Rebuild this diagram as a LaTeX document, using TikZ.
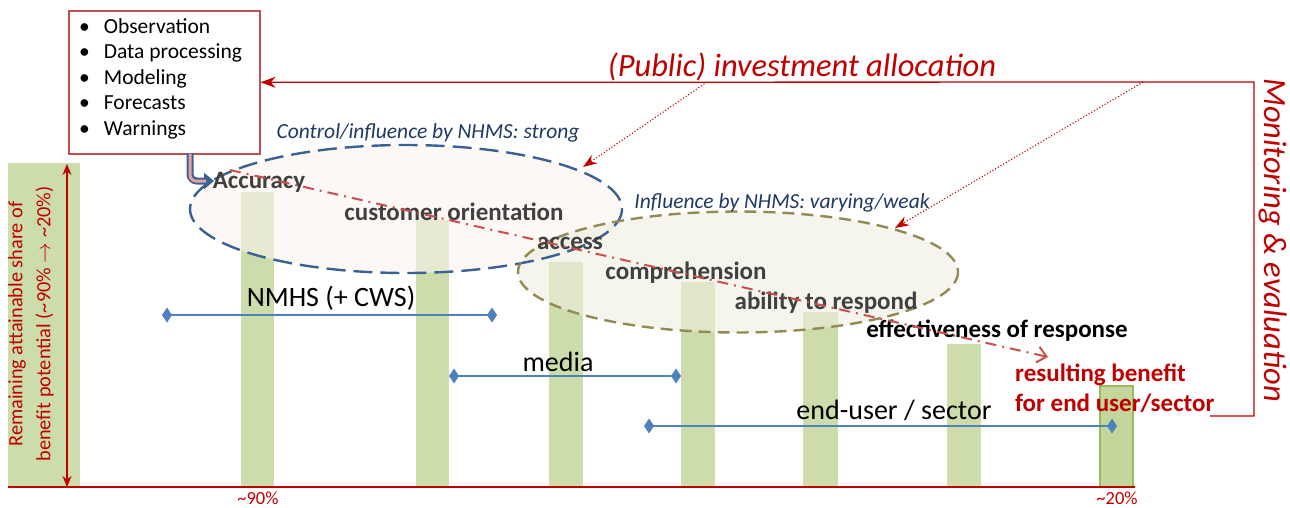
\documentclass[tikz,border=0pt]{standalone}
\usepackage{fontspec}
\setmainfont{Carlito}
\usetikzlibrary{arrows.meta,shapes.geometric}
\definecolor{fbred}{HTML}{C00000}
\definecolor{boxred}{HTML}{C0504D}
\definecolor{barc}{HTML}{C3D69B}
\definecolor{barb}{HTML}{9BBB59}
\definecolor{ellAfill}{HTML}{FBF3EE}
\definecolor{ellAline}{HTML}{3B6192}
\definecolor{ellBfill}{HTML}{EEECE1}
\definecolor{ellBline}{HTML}{948A54}
\definecolor{txtgray}{HTML}{404040}
\definecolor{navy}{HTML}{1F3864}
\definecolor{lineblue}{HTML}{4F81BD}
\definecolor{dashred}{HTML}{C8504D}
\definecolor{pinkfill}{HTML}{E6A0A0}
\tikzset{
  bar/.style={fill=barc,fill opacity=0.85},
  stage/.style={font=\fontsize{25}{30}\selectfont\bfseries,text=txtgray,inner sep=0},
  infl/.style={font=\fontsize{21.5}{26}\selectfont\itshape,text=navy,inner sep=0},
  actor/.style={font=\fontsize{28}{32}\selectfont,text=black,inner sep=0},
  actline/.style={draw=lineblue,line width=1.2pt,{Diamond[length=10pt,width=15pt]}-{Diamond[length=10pt,width=15pt]}},
  fbline/.style={draw=fbred,line width=1.3pt},
  dotarr/.style={draw=fbred,line width=1.1pt,dotted,-{Stealth[length=14pt,width=10pt]}},
  pct/.style={font=\fontsize{18.5}{20}\selectfont,text=fbred,inner sep=0},
}
\begin{document}
\begin{tikzpicture}[x=1pt,y=-1pt]
\useasboundingbox (0,0) rectangle (1290,507);
% bars
\fill[bar] (8,163) rectangle (80,487);
\fill[bar] (241,192) rectangle (274,487);
\fill[bar] (416,220) rectangle (449,487);
\fill[bar] (549,262) rectangle (583,487);
\fill[bar] (681,282) rectangle (715,487);
\fill[bar] (803,312) rectangle (838,487);
\fill[bar] (947,344) rectangle (981,487);
\filldraw[fill=barc,draw=barb,line width=2.5pt] (1100,386) rectangle (1133,487);
% baseline
\coordinate (b0) at (8,487);
\coordinate (b1) at (1135,487);
\draw[draw=fbred,line width=1.3pt] (b0) -- (b1);
% ellipses: fills first, borders after
\node[ellipse,fill=ellAfill,fill opacity=0.6,minimum width=432,minimum height=128,inner sep=0] (ellA) at (406,209) {};
\node[ellipse,fill=ellBfill,fill opacity=0.6,minimum width=440,minimum height=121,inner sep=0] (ellB) at (738,272) {};
\draw[draw=ellAline,line width=2.4pt,dash pattern=on 19pt off 8pt] (ellA.center) ellipse [x radius=216,y radius=64];
\draw[draw=ellBline,line width=2.4pt,dash pattern=on 12pt off 7pt] (ellB.center) ellipse [x radius=220,y radius=60.5];
% stage labels
\node[stage] (acc) at (259,182) {Accuracy};
\node[stage] (cust) at (454,212) {customer orientation};
\node[stage] (acs) at (570,243) {access};
\node[stage] (comp) at (686,273) {comprehension};
\node[stage] (abil) at (826,303) {ability to respond};
\node[stage,text=black] (eff) at (997,331) {effectiveness of response};
\node[stage,text=fbred,font=\fontsize{25}{30}\selectfont\bfseries,align=left,anchor=west] (res) at (1015,388) {resulting benefit\\for end user/sector};
% dash-dot chain
\coordinate (chainS) at (230,170);
\coordinate (chainE) at (1048,357);
\draw[draw=dashred,line width=2pt,dash pattern=on 11pt off 6pt on 2pt off 6pt,-{Straight Barb[length=9pt,width=16pt]}] (chainS) -- (chainE);
% influence labels
\node[infl] (inA) at (428,133) {Control/influence by NHMS: strong};
\node[infl] (inB) at (782,203) {Influence by NHMS: varying/weak};
% actors
\coordinate (nA) at (162,315); \coordinate (nB) at (497,315);
\draw[actline] (nA) -- (nB);
\node[actor] (nmhs) at (331,298) {NMHS (+ CWS)};
\coordinate (mA) at (449,376); \coordinate (mB) at (681,376);
\draw[actline] (mA) -- (mB);
\node[actor] (media) at (558,362) {media};
\coordinate (uA) at (644,426); \coordinate (uB) at (1117,426);
\draw[actline] (uA) -- (uB);
\node[actor] (user) at (894,410) {end-user / sector};
% percent labels
\node[pct] (p90) at (258,498) {\textasciitilde90\%};
\node[pct] (p20) at (1117,498) {\textasciitilde20\%};
% left axis
\coordinate (axT) at (67,164);
\coordinate (axB) at (67,487);
\draw[draw=fbred,line width=1.1pt,{Stealth[length=11pt,width=9pt]}-{Stealth[length=11pt,width=9pt]}] (axT) -- (axB);
\node[rotate=90,align=center,font=\fontsize{20.3}{28}\selectfont,text=fbred,inner sep=0] (axlab) at (31,324) {Remaining attainable share of\\benefit potential (\textasciitilde90\% $\rightarrow$ \textasciitilde20\%)};
% box
\node[draw=boxred,line width=1.6pt,minimum width=191,minimum height=143,inner sep=0,anchor=north west] (box) at (68,10) {};
\node[anchor=north west,align=left,inner sep=0,font=\fontsize{21.5}{25.6}\selectfont] (list) at (79,18)
 {\textbullet\hspace{14pt}Observation\\\textbullet\hspace{14pt}Data processing\\\textbullet\hspace{14pt}Modeling\\\textbullet\hspace{14pt}Forecasts\\\textbullet\hspace{14pt}Warnings};
% bent arrow from box to Accuracy
\coordinate (bendS) at (190,153);
\coordinate (bendE) at (214,181);
\draw[draw=ellAline,line width=7pt,rounded corners=7pt,-{Triangle[length=10pt,width=16pt]}] (bendS) |- (bendE);
\draw[draw=pinkfill,line width=3pt,rounded corners=6pt] (190,153.5) |- (206,181);
% feedback loop
\coordinate (fb1) at (1210,416);
\coordinate (fb2) at (1254,416);
\coordinate (fb3) at (1254,82);
\draw[fbline,-{Stealth[length=15pt,width=11pt]}] (fb1) -- (fb2) -- (fb3) -- (box.east);
\node[font=\fontsize{32.5}{38}\selectfont\itshape,text=fbred,inner sep=0] (pub) at (802,67) {(Public) investment allocation};
\node[rotate=-90,font=\fontsize{32.5}{38}\selectfont\itshape,text=fbred,inner sep=0] (mon) at (1273,240) {Monitoring \& evaluation};
% dotted arrows
\coordinate (d1) at (707,82);
\coordinate (d1e) at (583,167);
\coordinate (d2) at (1143,82);
\coordinate (d2e) at (895,228);
\draw[dotarr] (d1) -- (d1e);
\draw[dotarr] (d2) -- (d2e);
\end{tikzpicture}
\end{document}
